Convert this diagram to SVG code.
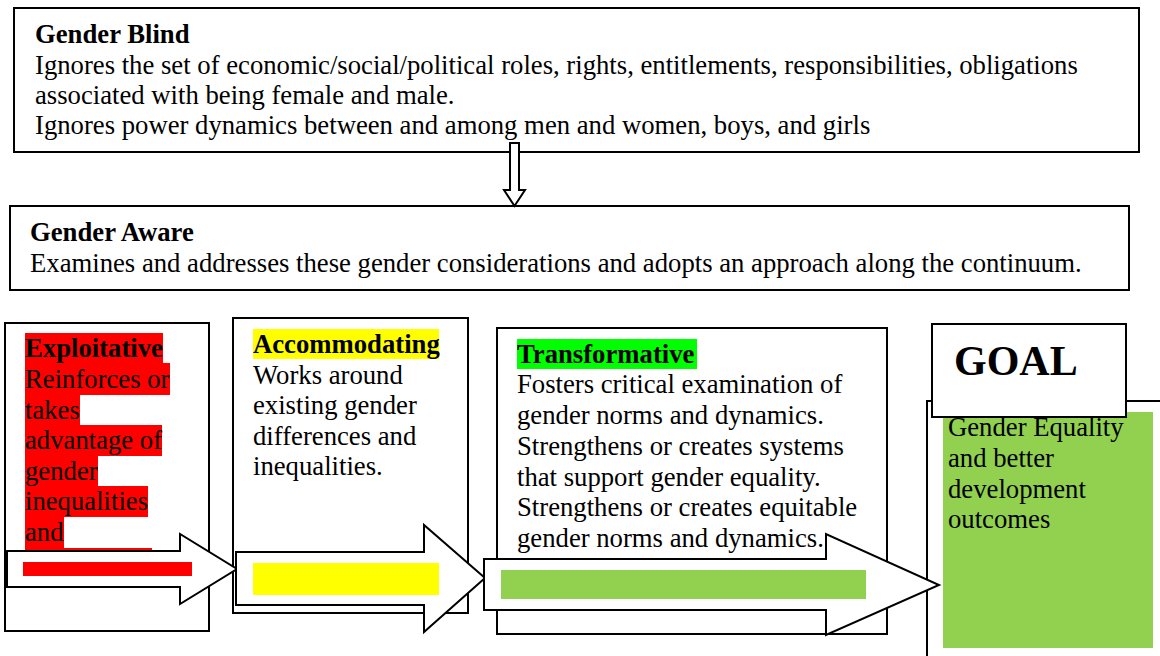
<svg xmlns="http://www.w3.org/2000/svg" width="1160" height="656" viewBox="0 0 1160 656">
<style>
.box{fill:#fff;stroke:#000;stroke-width:2}
.t{font-family:"Liberation Serif","Times New Roman",serif;font-size:26.7px;fill:#000}
.b{font-weight:bold}
.arr{fill:#fff;stroke:#000;stroke-width:2;stroke-linejoin:miter}
</style>
<rect width="1160" height="656" fill="#fff"/>

<g id="gender-blind">
<rect class="box" x="14" y="8" width="1125" height="144"/>
<text class="t b" x="35" y="43">Gender Blind</text>
<text class="t" x="35" y="73.5">Ignores the set of economic/social/political roles, rights, entitlements, responsibilities, obligations</text>
<text class="t" x="35" y="104">associated with being female and male.</text>
<text class="t" x="35" y="134">Ignores power dynamics between and among men and women, boys, and girls</text>
</g>

<g id="gender-aware">
<rect class="box" x="10" y="206" width="1119" height="84"/>
<text class="t b" x="30" y="241">Gender Aware</text>
<text class="t" x="30" y="272">Examines and addresses these gender considerations and adopts an approach along the continuum.</text>
</g>

<g id="exploitative">
<rect class="box" x="5" y="323" width="204" height="308"/>
<g fill="#ff0000">
<rect x="25" y="333" width="138" height="30"/>
<rect x="25" y="363" width="145" height="32"/>
<rect x="25" y="395" width="55" height="30"/>
<rect x="25" y="425" width="137" height="31"/>
<rect x="25" y="456" width="73" height="30"/>
<rect x="25" y="486" width="123" height="31"/>
<rect x="25" y="517" width="39" height="31"/>
<rect x="25" y="548" width="127" height="6"/>
</g>
<text class="t b" x="25" y="357">Exploitative</text>
<text class="t" x="25" y="388">Reinforces or</text>
<text class="t" x="25" y="419">takes</text>
<text class="t" x="25" y="449">advantage of</text>
<text class="t" x="25" y="480">gender</text>
<text class="t" x="25" y="510">inequalities</text>
<text class="t" x="25" y="541">and</text>
</g>

<g id="accommodating">
<rect class="box" x="233" y="318" width="235" height="295"/>
<rect x="253" y="329" width="186" height="30" fill="#ffff00"/>
<text class="t b" x="253" y="353">Accommodating</text>
<text class="t" x="253" y="384">Works around</text>
<text class="t" x="253" y="414">existing gender</text>
<text class="t" x="253" y="445">differences and</text>
<text class="t" x="253" y="475">inequalities.</text>
</g>

<g id="transformative">
<rect class="box" x="497" y="328" width="390" height="306"/>
<rect x="517" y="339" width="180" height="30" fill="#00ff00"/>
<text class="t b" x="517" y="363">Transformative</text>
<text class="t" x="517" y="393">Fosters critical examination of</text>
<text class="t" x="517" y="424">gender norms and dynamics.</text>
<text class="t" x="517" y="455">Strengthens or creates systems</text>
<text class="t" x="517" y="486">that support gender equality.</text>
<text class="t" x="517" y="516">Strengthens or creates equitable</text>
<text class="t" x="517" y="547">gender norms and dynamics.</text>
</g>

<g id="goal-outcome">
<path d="M927 660 V401 H1162" fill="#fff" stroke="#000" stroke-width="2"/>
<rect x="943" y="412" width="210" height="236" fill="#92d050"/>
<text class="t" x="948" y="436">Gender Equality</text>
<text class="t" x="948" y="467">and better</text>
<text class="t" x="948" y="498">development</text>
<text class="t" x="948" y="528">outcomes</text>
</g>

<g id="goal">
<rect class="box" x="932" y="324" width="194" height="93"/>
<text class="t b" x="954" y="375" style="font-size:42px">GOAL</text>
</g>

<g id="connectors">
<polygon class="arr" points="510,143 519,143 519,190 525,190 514.5,206 504,190 510,190" stroke-width="1.5"/>
<polygon class="arr" points="7,551 180,551 180,534 237,569 180,604 180,587 7,587"/>
<rect x="23" y="562" width="169" height="14" fill="#ff0000"/>
<polygon class="arr" points="236,552 424,552 424,525 485,578 424,632 424,605 236,605"/>
<rect x="253" y="563" width="186" height="32" fill="#ffff00"/>
<polygon class="arr" points="484,559 826,559 826,534 939,585 826,635 826,610 484,610"/>
<rect x="501" y="570" width="365" height="29" fill="#92d050"/>
</g>
</svg>
